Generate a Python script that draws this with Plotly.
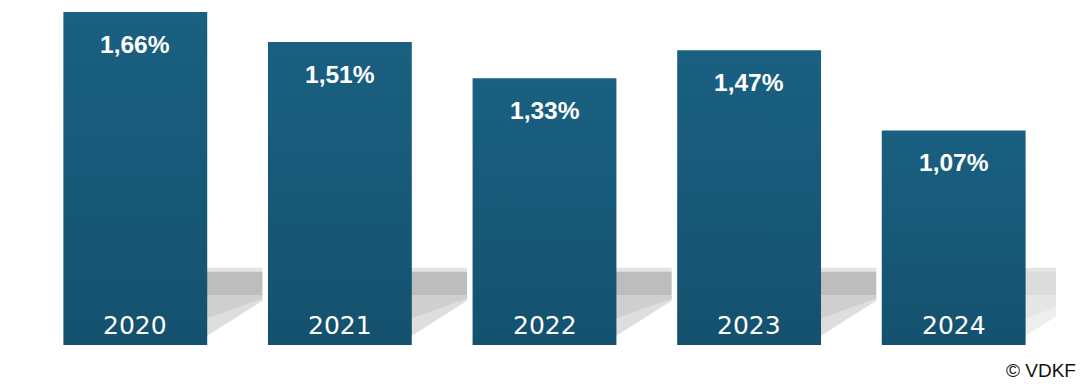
import plotly.graph_objects as go

years = ["2020", "2021", "2022", "2023", "2024"]
values = [1.66, 1.51, 1.33, 1.47, 1.07]
labels = ["1,66%", "1,51%", "1,33%", "1,47%", "1,07%"]

BAR_WIDTH = 0.703
half = BAR_WIDTH / 2

fig = go.Figure()
# bars drawn as filled rectangles in data space so each can carry a vertical gradient
for i, v in enumerate(values):
    xs = [i - half, i + half, i + half, i - half, i - half]
    ys = [0, 0, v, v, 0]
    fig.add_trace(go.Scatter(
        x=xs, y=ys, mode="lines", fill="toself", line=dict(width=0),
        fillgradient=dict(type="vertical", start=0, stop=v,
                          colorscale=[[0, "#14516e"], [1, "#1a6081"]]),
        hoverinfo="skip",
    ))

# decorative shadows behind bars (to the right of each bar)
shapes = []
for i in range(len(years)):
    x0 = i + half - 0.01
    x1 = x0 + 0.28
    last = i == len(years) - 1
    band = "#bdbdbd" if not last else "#dcdcdc"
    tri = "#dedede" if not last else "#eeeeee"
    shapes.append(dict(type="rect", xref="x", yref="y", x0=x0, x1=x1, y0=0.36, y1=0.385,
                       fillcolor="#e4e4e4", line=dict(width=0), layer="below"))
    shapes.append(dict(type="rect", xref="x", yref="y", x0=x0, x1=x1, y0=0.245, y1=0.365,
                       fillcolor=band, line=dict(width=0), layer="below"))
    shapes.append(dict(type="path", xref="x", yref="y",
                       path=f"M {x0},0.245 L {x1},0.245 L {x1},0.22 L {x0},0.04 Z",
                       fillcolor=tri, line=dict(width=0), layer="below"))
    shapes.append(dict(type="path", xref="x", yref="y",
                       path=f"M {x0},0.245 L {x1},0.245 L {x1},0.232 L {x0},0.13 Z",
                       fillcolor="#cfcfcf" if not last else "#e6e6e6", line=dict(width=0), layer="below"))

annotations = []
for i, (v, lab, yr) in enumerate(zip(values, labels, years)):
    annotations.append(dict(x=i, y=v, xref="x", yref="y", text=f"<b>{lab}</b>", showarrow=False,
                            yanchor="middle", yshift=-32,
                            font=dict(family="Liberation Sans, Arial, sans-serif", size=24.5, color="white")))
    annotations.append(dict(x=i, y=0, xref="x", yref="y", text=yr, showarrow=False,
                            yanchor="middle", yshift=20,
                            font=dict(family="DejaVu Sans, Verdana, sans-serif", size=25, color="white")))

annotations.append(dict(x=1, y=0, xref="paper", yref="paper", xanchor="right", yanchor="middle",
                        xshift=1078 - 1056, yshift=-25, text="© VDKF", showarrow=False,
                        font=dict(family="Liberation Sans, Arial, sans-serif", size=19, color="#111111")))

fig.update_layout(
    width=1090, height=386,
    margin=dict(l=33, r=34, t=0, b=41),
    paper_bgcolor="white", plot_bgcolor="white",
    showlegend=False,
    xaxis=dict(range=[-0.5, 4.5], visible=False, fixedrange=True),
    yaxis=dict(range=[0, 1.72], visible=False, fixedrange=True),
    shapes=shapes,
    annotations=annotations,
)

fig.write_html("out.html")
